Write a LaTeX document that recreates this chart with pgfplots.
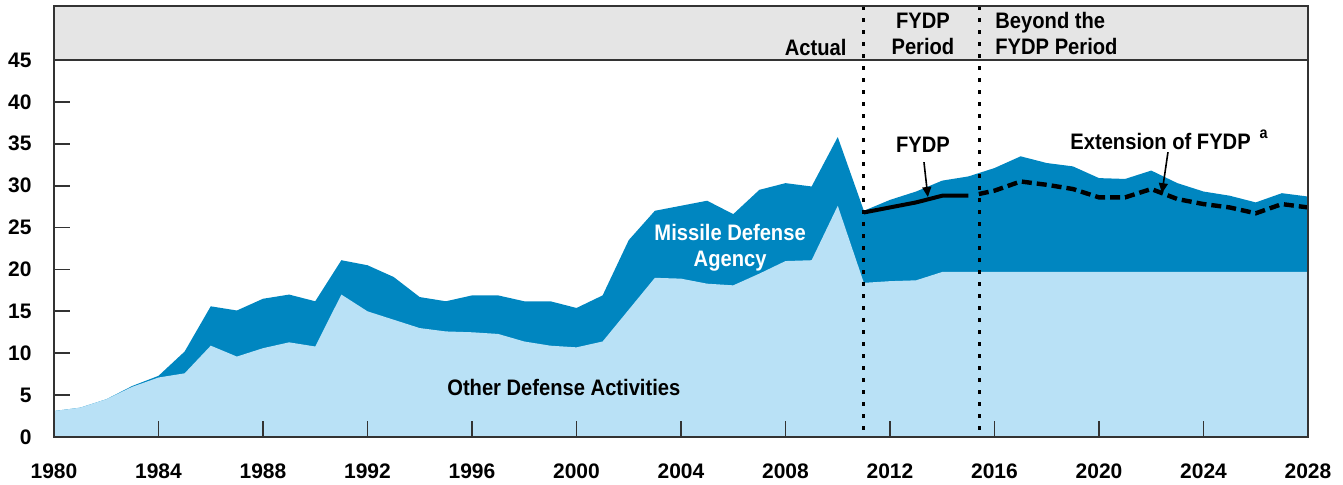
\documentclass[border=0pt]{standalone}
\usepackage{pgfplots}
\pgfplotsset{compat=1.18}
\usepackage{fontspec}
\setmainfont{Liberation Sans}
\newfontfamily\narrowfont{Liberation Sans}[FakeStretch=0.9]
\usetikzlibrary{arrows.meta}
\definecolor{mda}{HTML}{0086C0}
\definecolor{oda}{HTML}{B9E1F6}
\definecolor{band}{HTML}{E5E5E5}
\definecolor{frame}{HTML}{333333}
\newcommand{\lab}{\narrowfont\bfseries\fontsize{11.2}{13}\selectfont}
\begin{document}
\begin{tikzpicture}
\useasboundingbox (0,0) rectangle (671.5pt,242pt);
\begin{axis}[
 at={(27pt,23.5pt)}, anchor=south west,
 width=627pt, height=215.5pt, scale only axis,
 xmin=1980, xmax=2028, ymin=0, ymax=51.44,
 axis on top,
 axis line style={draw=frame, line width=0.9pt},
 xtick={1980,1984,...,2028},
 xticklabels={1980,1984,1988,1992,1996,2000,2004,2008,2012,2016,2020,2024,2028},
 ytick={0,5,...,45},
 yticklabels={0,5,10,15,20,25,30,35,40,45},
 tick style={draw=frame, line width=0.9pt},
 major tick length=8pt,
 tick align=inside,
 xtick pos=bottom, ytick pos=left,
 tick label style={font=\fontsize{10.5}{12}\selectfont\bfseries, text=black},
 xticklabel style={anchor=north, inner sep=0pt, yshift=-13pt},
 yticklabel style={anchor=east, inner sep=0pt, xshift=-11pt},
]
\fill[band] (axis cs:1980,45) rectangle (axis cs:2028,51.44);
\addplot[fill=mda, draw=none] coordinates {
(1980,3.1)(1981,3.5)(1982,4.5)(1983,6.1)(1984,7.3)(1985,10.2)(1986,15.6)(1987,15.1)
(1988,16.5)(1989,17.0)(1990,16.2)(1991,21.1)(1992,20.5)(1993,19.1)(1994,16.7)(1995,16.2)
(1996,16.9)(1997,16.9)(1998,16.2)(1999,16.2)(2000,15.4)(2001,16.9)(2002,23.5)(2003,27.0)
(2004,27.6)(2005,28.2)(2006,26.6)(2007,29.5)(2008,30.3)(2009,29.9)(2010,35.8)(2011,27.0)
(2012,28.3)(2013,29.3)(2014,30.6)(2015,31.1)(2016,32.1)(2017,33.5)(2018,32.7)(2019,32.3)
(2020,30.9)(2021,30.8)(2022,31.8)(2023,30.3)(2024,29.3)(2025,28.8)(2026,28.0)(2027,29.1)
(2028,28.7)} \closedcycle;
\addplot[fill=oda, draw=none] coordinates {
(1980,3.1)(1981,3.5)(1982,4.5)(1983,6.0)(1984,7.1)(1985,7.6)(1986,10.9)(1987,9.6)
(1988,10.6)(1989,11.3)(1990,10.8)(1991,17.0)(1992,15.0)(1993,14.0)(1994,13.0)(1995,12.6)
(1996,12.5)(1997,12.3)(1998,11.4)(1999,10.9)(2000,10.7)(2001,11.4)(2002,15.2)(2003,19.0)
(2004,18.9)(2005,18.3)(2006,18.1)(2007,19.5)(2008,21.0)(2009,21.1)(2010,27.6)(2011,18.4)
(2012,18.6)(2013,18.7)(2014,19.7)(2015,19.7)(2016,19.7)(2017,19.7)(2018,19.7)(2019,19.7)
(2020,19.7)(2021,19.7)(2022,19.7)(2023,19.7)(2024,19.7)(2025,19.7)(2026,19.7)(2027,19.7)
(2028,19.7)} \closedcycle;
\addplot[black, line width=2pt] coordinates {
(2011,26.8)(2012,27.4)(2013,28.0)(2014,28.8)(2015,28.8)};
\addplot[black, line width=2.2pt, dash pattern=on 5pt off 2.5pt] coordinates {
(2015.4,29.0)(2016,29.4)(2017,30.5)(2018,30.1)(2019,29.6)(2020,28.6)(2021,28.6)(2022,29.6)
(2023,28.4)(2024,27.8)(2025,27.4)(2026,26.7)(2027,27.8)(2028,27.4)};
\draw[frame, line width=0.9pt] (axis cs:1980,45) -- (axis cs:2028,45);
\draw[black, line width=1.6pt, dash pattern=on 1.8pt off 4.2pt] (axis cs:2011,51.44) -- (axis cs:2011,0);
\draw[black, line width=1.6pt, dash pattern=on 1.8pt off 4.2pt] (axis cs:2015.42,51.44) -- (axis cs:2015.42,0);
\node[anchor=base east, inner sep=0pt] at (axis cs:2010.35,45.5) {\lab Actual};
\node[anchor=base, inner sep=0pt] at (axis cs:2013.26,48.76) {\lab FYDP};
\node[anchor=base, inner sep=0pt] at (axis cs:2013.26,45.6) {\lab Period};
\node[anchor=base west, inner sep=0pt] at (axis cs:2016.02,48.76) {\lab Beyond the};
\node[anchor=base west, inner sep=0pt] at (axis cs:2016.02,45.6) {\lab FYDP Period};
\node[anchor=base, inner sep=0pt, text=white] at (axis cs:2005.88,23.5) {\lab Missile Defense};
\node[anchor=base, inner sep=0pt, text=white] at (axis cs:2005.88,20.3) {\lab Agency};
\node[anchor=base west, inner sep=0pt] at (axis cs:1995.04,5.0) {\lab Other Defense Activities};
\node[anchor=base, inner sep=0pt] at (axis cs:2013.26,33.9) {\lab FYDP};
\node[anchor=base west, inner sep=0pt] at (axis cs:2018.89,34.26) {\lab Extension of FYDP};
\node[inner sep=0pt] at (axis cs:2026.3,36.1) {\narrowfont\bfseries\fontsize{8}{9}\selectfont a};
\draw[black, line width=0.8pt, -{Triangle[length=5pt,width=4.5pt]}] (axis cs:2013.30,32.8) -- (axis cs:2013.45,28.65);
\draw[black, line width=0.8pt, -{Triangle[length=5pt,width=4.5pt]}] (axis cs:2022.64,34.0) -- (axis cs:2022.41,29.1);
\end{axis}
\draw[frame, line width=0.9pt] (27pt,23.5pt) rectangle (654pt,239pt);
\end{tikzpicture}
\end{document}
